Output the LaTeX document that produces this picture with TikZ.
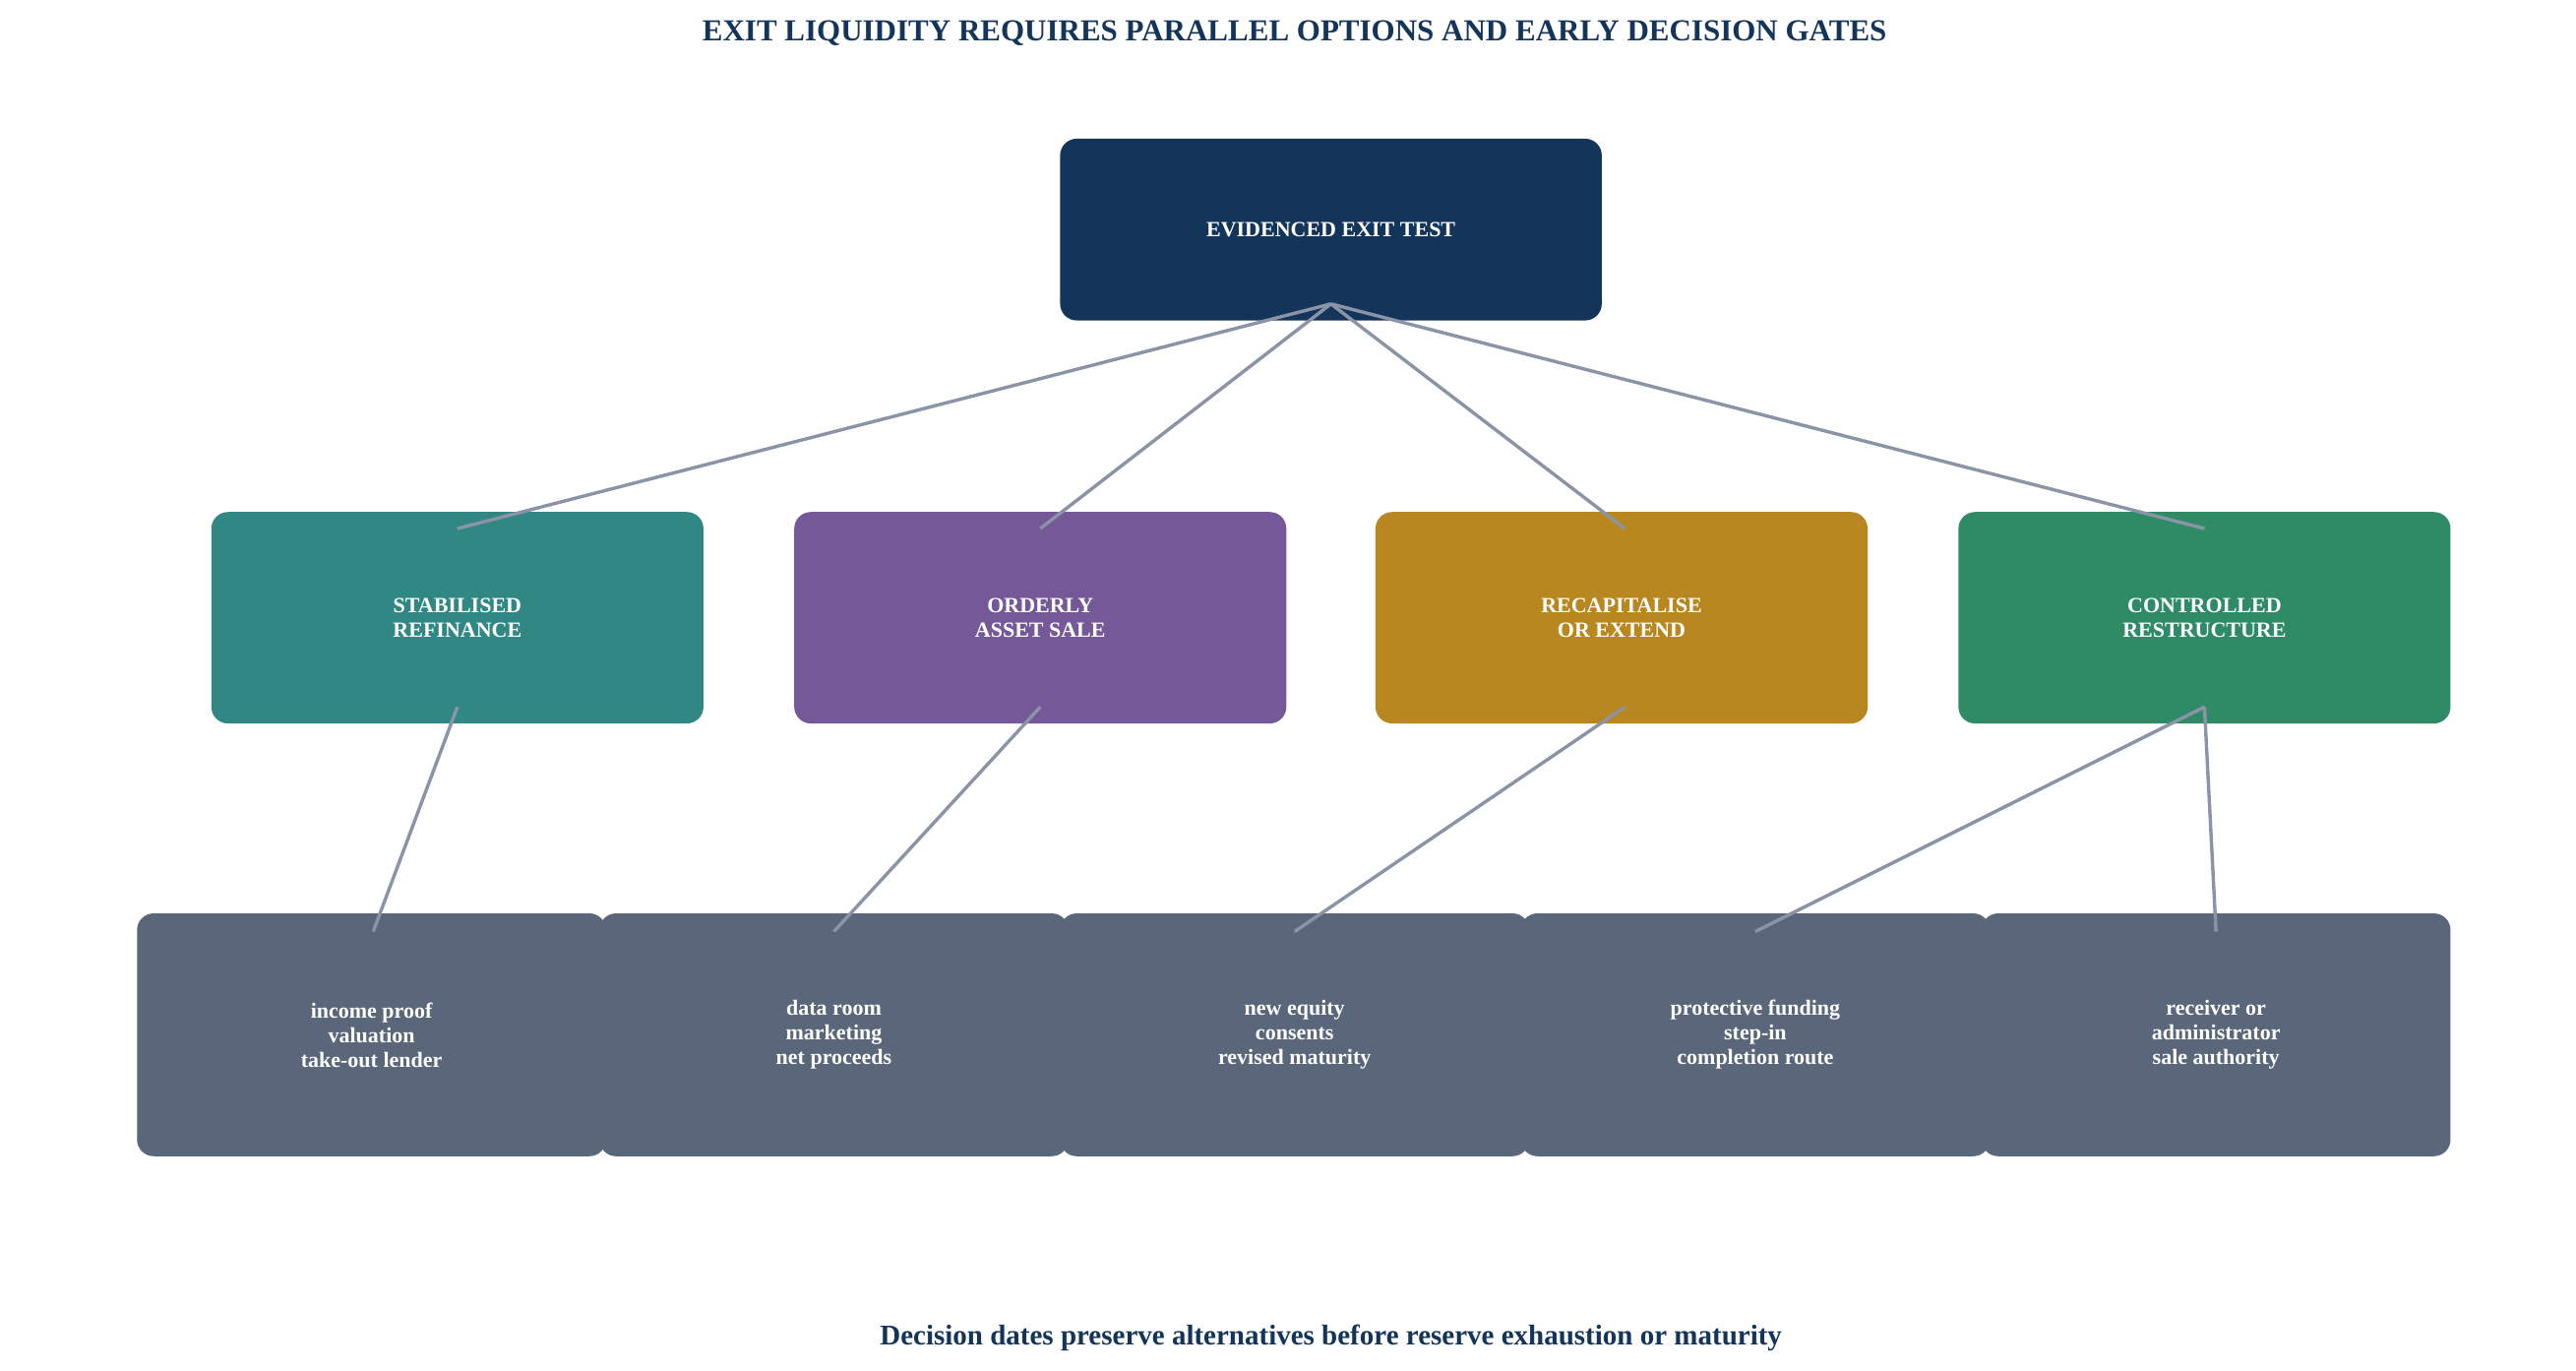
\documentclass[tikz,border=0pt]{standalone}
\usepackage{fontspec}
\setmainfont{Liberation Serif}
\begin{document}
\begin{tikzpicture}[x=0.839pt,y=-0.839pt,
 box/.style={draw=none,rounded corners=8.4pt,text=white,font=\bfseries\fontsize{11}{12.5}\selectfont,align=center,inner sep=0pt},
 link/.style={draw=lk,line width=1.7pt},
 lab/.style={font=\bfseries\fontsize{15.5}{18}\selectfont,text=navy}]
\definecolor{navy}{HTML}{14355A}
\definecolor{teal1}{HTML}{318784}
\definecolor{purp}{HTML}{745898}
\definecolor{gold}{HTML}{B8871F}
\definecolor{grn}{HTML}{2F8A66}
\definecolor{slate}{HTML}{5A6679}
\definecolor{lk}{HTML}{8A94A6}
\useasboundingbox (0,0) rectangle (1560,830);
\node[lab] (title) at (784,20) {EXIT LIQUIDITY REQUIRES PARALLEL OPTIONS AND EARLY DECISION GATES};
\node[lab,font=\bfseries\fontsize{14.5}{17}\selectfont] (foot) at (806,810) {Decision dates preserve alternatives before reserve exhaustion or maturity};
\node[box,fill=navy,minimum width=328*0.839pt,minimum height=110*0.839pt] (top) at (806,139) {EVIDENCED EXIT TEST};
\foreach \n/\x/\c/\t in {a/277/teal1/{STABILISED\\REFINANCE},b/630/purp/{ORDERLY\\ASSET SALE},c/982/gold/{RECAPITALISE\\OR EXTEND},d/1335/grn/{CONTROLLED\\RESTRUCTURE}}
 \node[box,fill=\c,minimum width=298*0.839pt,minimum height=128*0.839pt] (\n) at (\x,374) {\t};
\foreach \n/\x/\t in {p/225/{income proof\\valuation\\take-out lender},q/505/{data room\\marketing\\net proceeds},r/784/{new equity\\consents\\revised maturity},s/1063/{protective funding\\step-in\\completion route},t/1342/{receiver or\\administrator\\sale authority}}
 \node[box,fill=slate,font=\bfseries\fontsize{11}{12.5}\selectfont,minimum width=284*0.839pt,minimum height=147*0.839pt] (\n) at (\x,626.5) {\t};
\coordinate (o) at (806,184);
\foreach \n/\x in {a/277,b/630,c/984,d/1335} \coordinate (\n1) at (\x,320);
\foreach \n/\x in {a/277,b/630,c/984,d/1335} \coordinate (\n2) at (\x,428);
\foreach \n/\x in {p/226,q/505,r/784,s/1063,t/1342} \coordinate (\n1) at (\x,564);
\foreach \n in {a,b,c,d} \draw[link] (o) -- (\n1);
\draw[link] (a2) -- (p1);
\draw[link] (b2) -- (q1);
\draw[link] (c2) -- (r1);
\draw[link] (d2) -- (s1);
\draw[link] (d2) -- (t1);
\end{tikzpicture}
\end{document}
